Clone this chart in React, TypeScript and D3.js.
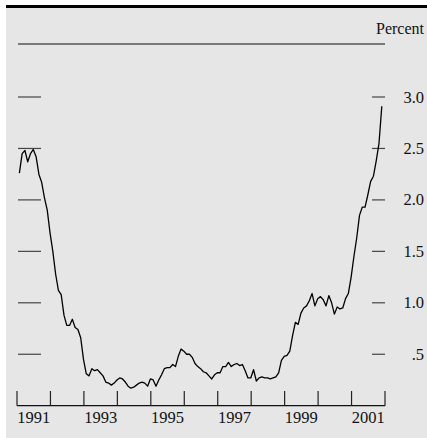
import React from "react";
import * as d3 from "d3";

const startYear = 1991;
const endYear = 2002;
const values: number[] = [
  2.26, 2.45, 2.48, 2.37, 2.45, 2.49, 2.42, 2.25, 2.17, 2.02,
  1.9, 1.68, 1.5, 1.28, 1.12, 1.08, 0.88, 0.78, 0.78, 0.84,
  0.76, 0.74, 0.66, 0.45, 0.31, 0.29, 0.36, 0.34, 0.35, 0.32,
  0.29, 0.23, 0.22, 0.2, 0.22, 0.25, 0.27, 0.26, 0.23, 0.19,
  0.17, 0.18, 0.2, 0.22, 0.23, 0.22, 0.19, 0.26, 0.25, 0.19,
  0.25, 0.3, 0.36, 0.37, 0.37, 0.4, 0.38, 0.48, 0.55, 0.53,
  0.5, 0.5, 0.47, 0.41, 0.38, 0.36, 0.33, 0.32, 0.29, 0.26,
  0.3, 0.32, 0.32, 0.38, 0.38, 0.42, 0.38, 0.4, 0.41, 0.39,
  0.4, 0.34, 0.27, 0.27, 0.35, 0.24, 0.27, 0.28, 0.27, 0.27,
  0.26, 0.27, 0.28, 0.32, 0.44, 0.48, 0.49, 0.53, 0.68, 0.81,
  0.79, 0.9, 0.95, 0.97, 1.02, 1.09, 0.97, 1.04, 1.06, 1.03,
  0.97, 1.07, 1.0, 0.89, 0.96, 0.94, 0.95, 1.04, 1.09, 1.25,
  1.45, 1.63, 1.85, 1.93, 1.93, 2.05, 2.18, 2.23, 2.38, 2.55,
  2.91,
];
const yTicks = [0.5, 1.0, 1.5, 2.0, 2.5, 3.0];
const yTickLabels = [".5", "1.0", "1.5", "2.0", "2.5", "3.0"];
const xLabelYears = [1991, 1993, 1995, 1997, 1999, 2001];

const W = 427;
const H = 438;
const FONT = "'Liberation Serif', 'Times New Roman', Times, serif";

export default function App() {
  const x = d3.scaleLinear().domain([startYear, endYear]).range([17, 385]);
  const y = d3.scaleLinear().domain([0, 3]).range([405.7, 97]);
  const pts = values.map((v, i) => [startYear + (i + 0.85) / 12, v] as [number, number]);
  const line = d3
    .line<[number, number]>()
    .x((d) => x(d[0]))
    .y((d) => y(d[1]));
  const years = d3.range(startYear, endYear + 1);

  return (
    <svg
      width={W}
      height={H}
      style={{ position: "absolute", left: 0, top: 0, background: "#fff" }}
    >
      <rect x={6} y={8} width={W - 6} height={H - 8} fill="#e6e6e6" />
      <rect x={6} y={5} width={W - 6} height={3} fill="#000" />
      <line x1={18} x2={385} y1={44} y2={44} stroke="#555" strokeWidth={1.3} />
      <text x={424} y={34} textAnchor="end" fontFamily={FONT} fontSize={16} fill="#111">
        Percent
      </text>
      {yTicks.map((t, i) => (
        <g key={t}>
          <line x1={18} x2={41} y1={y(t)} y2={y(t)} stroke="#444" strokeWidth={1.2} />
          <line x1={372} x2={385} y1={y(t)} y2={y(t)} stroke="#444" strokeWidth={1.2} />
          <text
            x={424}
            y={y(t) + 5.5}
            textAnchor="end"
            fontFamily={FONT}
            fontSize={16.5}
            fill="#111"
          >
            {yTickLabels[i]}
          </text>
        </g>
      ))}
      <line x1={x(startYear)} x2={x(endYear)} y1={y(0)} y2={y(0)} stroke="#111" strokeWidth={1.3} />
      {years.map((yr) => (
        <line
          key={yr}
          x1={x(yr)}
          x2={x(yr)}
          y1={391}
          y2={y(0)}
          stroke="#222"
          strokeWidth={1.2}
        />
      ))}
      {xLabelYears.map((yr) => (
        <text
          key={yr}
          x={x(yr + 0.5)}
          y={423}
          textAnchor="middle"
          fontFamily={FONT}
          fontSize={16.5}
          fill="#111"
        >
          {yr}
        </text>
      ))}
      <path d={line(pts) || ""} fill="none" stroke="#000" strokeWidth={1.3} strokeLinejoin="round" />
    </svg>
  );
}
